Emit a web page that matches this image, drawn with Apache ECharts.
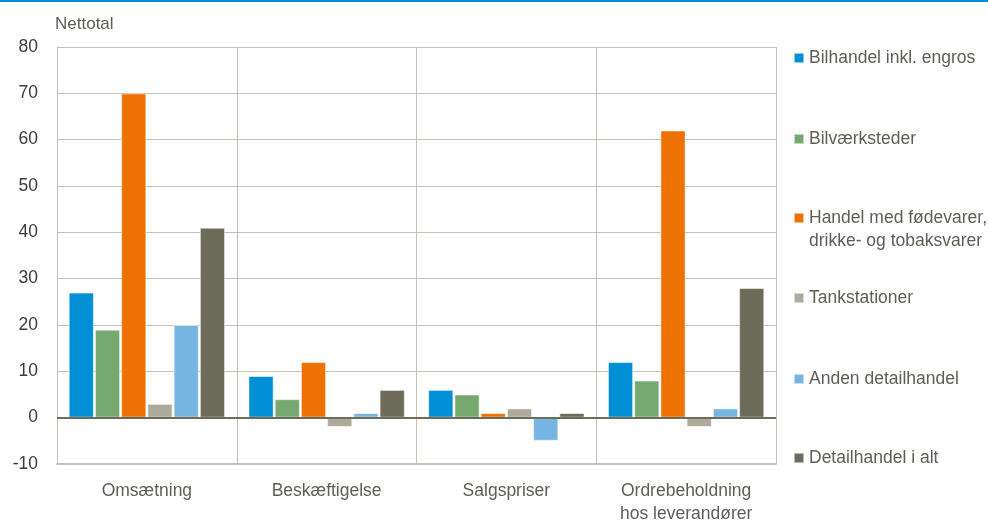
<!DOCTYPE html>
<html><head><meta charset="utf-8">
<script src="https://cdn.jsdelivr.net/npm/echarts@6/dist/echarts.min.js"></script>
<style>html,body{margin:0;padding:0;background:#fff}#c{width:988px;height:526px}</style>
</head><body><div id="c"></div>
<script>
const categories = ['Omsætning', 'Beskæftigelse', 'Salgspriser', 'Ordrebeholdning\nhos leverandører'];
const seriesNames = ['Bilhandel inkl. engros', 'Bilværksteder', 'Handel med fødevarer,\ndrikke- og tobaksvarer', 'Tankstationer', 'Anden detailhandel', 'Detailhandel i alt'];
const bilhandel = [27, 9, 6, 12];
const bilvaerksteder = [19, 4, 5, 8];
const foedevarer = [70, 12, 1, 62];
const tankstationer = [3, -2, 2, -2];
const andenDetail = [20, 1, -5, 2];
const detailIAlt = [41, 6, 1, 28];
const yTicks = [-10, 0, 10, 20, 30, 40, 50, 60, 70, 80];
const colors = ['#008fd5', '#76a96f', '#ee7203', '#adaa9c', '#76b5e3', '#6d6b5a'];

const values = [bilhandel, bilvaerksteder, foedevarer, tankstationer, andenDetail, detailIAlt];
const font = 'Liberation Sans, Arial, sans-serif';
const fs = 17.5;
const chart = echarts.init(document.getElementById('c'));
const legendTops = [41.5, 122.5, 178.5, 281.5, 362.5, 441.5];
const series = values.map((v, i) => {
  const s = {
    name: seriesNames[i], type: 'bar', data: v,
    barGap: '4%', barCategoryGap: '13%',
    itemStyle: { color: colors[i], borderColor: 'rgba(255,255,255,0.55)', borderWidth: 1 }
  };
  if (i === 5) {
    s.markLine = { silent: true, symbol: 'none', label: { show: false },
      lineStyle: { color: '#6d6b5a', width: 2, type: 'solid' }, data: [{ yAxis: 0 }] };
  }
  return s;
});
const legends = seriesNames.map((n, i) => ({
  data: [n], left: 788, top: legendTops[i], orient: 'vertical',
  itemWidth: 10, itemHeight: 10, icon: 'rect', itemGap: 0,
  formatter: name => name.indexOf('\n') >= 0 ? '\u00a0\n' + name : name,
  textStyle: { fontFamily: font, fontSize: fs, color: '#5f5d55', lineHeight: 23 }
}));
chart.setOption({
  animation: false,
  color: colors,
  graphic: [{ type: 'rect', shape: { x: 0, y: 0, width: 988, height: 2 }, style: { fill: '#0090d6' } }],
  grid: { left: 57, right: 212, top: 47, bottom: 52, containLabel: false },
  legend: legends,
  xAxis: {
    type: 'category', data: categories,
    axisLine: { onZero: false, lineStyle: { color: '#c3c1b6', width: 2 } },
    axisTick: { show: false },
    splitLine: { show: true, lineStyle: { color: '#c3c1b6', width: 1 } },
    axisLabel: { fontFamily: font, fontSize: fs, color: '#5f5d55', margin: 16, lineHeight: 23 }
  },
  yAxis: {
    type: 'value', min: -10, max: 80, interval: 10,
    name: 'Nettotal', nameGap: 14,
    nameTextStyle: { fontFamily: font, fontSize: 17, color: '#5f5d55', align: 'left', padding: [0, 0, 0, -2] },
    axisLine: { show: true, lineStyle: { color: '#c3c1b6', width: 1 } },
    axisTick: { show: false },
    splitLine: { lineStyle: { color: '#c3c1b6', width: 1 } },
    axisLabel: { fontFamily: font, fontSize: fs, color: '#3c3c3c', margin: 19,
      formatter: v => yTicks.includes(v) ? String(v) : '' }
  },
  series: series
});
</script></body></html>
